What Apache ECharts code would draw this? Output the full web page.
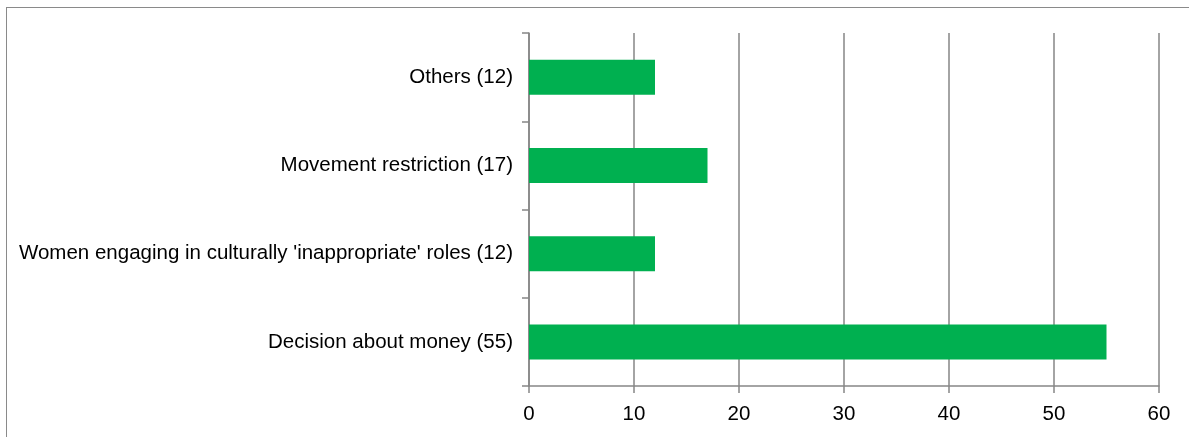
<!DOCTYPE html>
<html><head><meta charset="utf-8">
<script src="https://cdn.jsdelivr.net/npm/echarts@6/dist/echarts.min.js"></script>
<style>
html,body{margin:0;padding:0;background:#fff;}
#frame{position:absolute;left:6px;top:7px;width:1200px;height:450px;border-top:1.5px solid #8a8a8a;border-left:1.5px solid #8a8a8a;}
#c{position:absolute;left:0;top:0;width:1189px;height:437px;}
</style></head>
<body>
<div id="frame"></div>
<div id="c"></div>
<script>
const categories = ["Decision about money (55)", "Women engaging in culturally 'inappropriate' roles (12)", "Movement restriction (17)", "Others (12)"];
const values = [55, 12, 17, 12];
const xTicks = [0, 10, 20, 30, 40, 50, 60];

const chart = echarts.init(document.getElementById('c'), null, {renderer:'canvas'});
const gray = '#868686';
chart.setOption({
  animation:false,
  grid:{left:529, right:30, top:33, bottom:51, containLabel:false},
  xAxis:{
    type:'value', min:xTicks[0], max:xTicks[xTicks.length-1], interval:10,
    axisLine:{show:true, lineStyle:{color:gray, width:1.5}},
    axisTick:{show:true, length:7, lineStyle:{color:gray, width:1.5}},
    splitLine:{show:true, lineStyle:{color:gray, width:1.5}},
    axisLabel:{color:'#000', fontFamily:'Liberation Sans, Arial', fontSize:20.5, margin:18}
  },
  yAxis:{
    type:'category', data:categories,
    axisLine:{show:true, lineStyle:{color:gray, width:1.5}},
    axisTick:{show:true, length:7, lineStyle:{color:gray, width:1.5}},
    axisLabel:{color:'#000', fontFamily:'Liberation Sans, Arial', fontSize:20.5, margin:16, padding:[4,0,0,0]}
  },
  series:[{
    type:'bar', data:values, barWidth:35,
    itemStyle:{color:'#00B050'}
  }]
});
</script>
</body></html>
